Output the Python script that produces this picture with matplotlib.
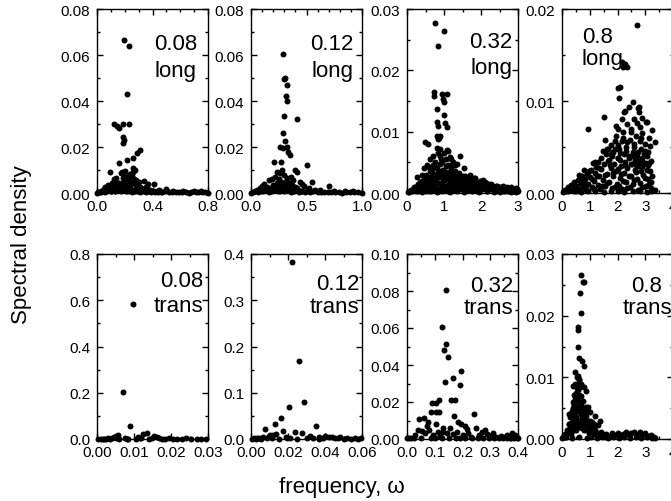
import matplotlib
matplotlib.use('Agg')
import matplotlib.pyplot as plt
from matplotlib.ticker import MultipleLocator, FormatStrFormatter

plt.rcParams['font.family'] = ['Liberation Sans', 'DejaVu Sans']

# ---- data: (frequency, spectral density) pairs ----
long_008 = [
    (0.196, 0.0666), (0.231, 0.0640), (0.216, 0.0432),
    (0.126, 0.0300), (0.145, 0.0290), (0.160, 0.0281), (0.189, 0.0301), (0.233, 0.0301),
    (0.184, 0.0242), (0.194, 0.0231), (0.189, 0.0218),
    (0.313, 0.0188), (0.286, 0.0174), (0.257, 0.0152), (0.213, 0.0145), (0.155, 0.0129),
    (0.097, 0.0090), (0.179, 0.0093), (0.204, 0.0097), (0.257, 0.0107), (0.276, 0.0101),
    (0.238, 0.0083), (0.228, 0.0054), (0.301, 0.0046), (0.339, 0.0054), (0.368, 0.0039),
    (0.410, 0.0039), (0.170, 0.0085), (0.190, 0.0088), (0.260, 0.0090), (0.120, 0.0060),
    (0.130, 0.0050), (0.140, 0.0065), (0.160, 0.0045), (0.270, 0.0062), (0.250, 0.0050),
    (0.290, 0.0035), (0.310, 0.0028), (0.080, 0.0035), (0.060, 0.0025), (0.050, 0.0018),
    (0.100, 0.0030), (0.110, 0.0042), (0.200, 0.0030), (0.220, 0.0025), (0.240, 0.0020),
    (0.350, 0.0025), (0.380, 0.0015), (0.450, 0.0012), (0.500, 0.0018), (0.550, 0.0008),
    (0.620, 0.0008), (0.700, 0.0010), (0.750, 0.0008),
    (0.02, 0.0005), (0.03, 0.0010), (0.04, 0.0008), (0.07, 0.0020), (0.09, 0.0025),
    (0.12, 0.0030), (0.13, 0.0018), (0.14, 0.0035), (0.15, 0.0025), (0.17, 0.0030),
    (0.18, 0.0020), (0.19, 0.0045), (0.20, 0.0060), (0.21, 0.0038), (0.22, 0.0055),
    (0.23, 0.0035), (0.24, 0.0065), (0.26, 0.0045), (0.28, 0.0030), (0.32, 0.0022),
    (0.34, 0.0012), (0.36, 0.0018), (0.40, 0.0010), (0.43, 0.0008), (0.47, 0.0006),
    (0.10, 0.0008), (0.13, 0.0010), (0.16, 0.0028), (0.18, 0.0012), (0.20, 0.0018),
    (0.22, 0.0010), (0.25, 0.0015), (0.27, 0.0008), (0.29, 0.0020), (0.31, 0.0010),
    (0.33, 0.0016), (0.21, 0.0070), (0.23, 0.0078), (0.25, 0.0075), (0.19, 0.0065),
    (0.28, 0.0055),
]
long_008_base_x = [0.00, 0.01, 0.03, 0.05, 0.06, 0.08, 0.10, 0.11, 0.13, 0.15, 0.17, 0.18,
                   0.21, 0.23, 0.25, 0.27, 0.29, 0.31, 0.33, 0.35, 0.37, 0.39, 0.42, 0.44,
                   0.46, 0.49, 0.52, 0.54, 0.57, 0.59, 0.61, 0.64, 0.66, 0.68, 0.71, 0.73,
                   0.76, 0.78, 0.80]
long_008_base_y = [0.0002, 0.0004, 0.0006, 0.0009, 0.0005, 0.0011, 0.0008, 0.0014, 0.0010,
                   0.0012, 0.0007, 0.0013, 0.0009, 0.0011, 0.0006, 0.0010, 0.0008, 0.0006,
                   0.0009, 0.0005, 0.0007, 0.0004, 0.0006, 0.0003, 0.0005, 0.0007, 0.0004,
                   0.0003, 0.0005, 0.0003, 0.0004, 0.0006, 0.0002, 0.0004, 0.0005, 0.0003,
                   0.0004, 0.0003, 0.0002]

long_012 = [
    (0.290, 0.0605), (0.300, 0.0496), (0.310, 0.0500), (0.327, 0.0470), (0.315, 0.0420),
    (0.324, 0.0400), (0.414, 0.0322), (0.294, 0.0334), (0.285, 0.0260), (0.309, 0.0225),
    (0.264, 0.0200), (0.290, 0.0197), (0.327, 0.0200), (0.330, 0.0177), (0.350, 0.0165),
    (0.207, 0.0136), (0.270, 0.0136), (0.500, 0.0122), (0.230, 0.0090), (0.260, 0.0086),
    (0.280, 0.0100), (0.400, 0.0101), (0.410, 0.0090), (0.160, 0.0055), (0.190, 0.0060),
    (0.550, 0.0046), (0.700, 0.0032), (0.220, 0.0070), (0.250, 0.0060), (0.300, 0.0080),
    (0.320, 0.0065), (0.360, 0.0070), (0.380, 0.0055), (0.440, 0.0050), (0.460, 0.0040),
    (0.480, 0.0030), (0.120, 0.0040), (0.100, 0.0030), (0.080, 0.0020), (0.050, 0.0015),
    (0.140, 0.0025), (0.200, 0.0035), (0.240, 0.0030), (0.280, 0.0040), (0.340, 0.0030),
    (0.400, 0.0025), (0.520, 0.0020), (0.580, 0.0015), (0.620, 0.0012), (0.750, 0.0010),
    (0.850, 0.0008), (0.920, 0.0010), (0.180, 0.0020), (0.230, 0.0045), (0.270, 0.0025),
    (0.310, 0.0050), (0.330, 0.0020), (0.370, 0.0035), (0.420, 0.0015), (0.150, 0.0010),
    (0.17, 0.0012), (0.21, 0.0015), (0.23, 0.0022), (0.26, 0.0010), (0.29, 0.0018),
    (0.32, 0.0012), (0.35, 0.0018), (0.38, 0.0010), (0.41, 0.0020), (0.45, 0.0010),
    (0.50, 0.0008), (0.27, 0.0048), (0.30, 0.0030), (0.34, 0.0045),
]
long_012_base_x = [0.00, 0.02, 0.04, 0.06, 0.09, 0.11, 0.13, 0.16, 0.19, 0.21, 0.24, 0.27,
                   0.30, 0.33, 0.36, 0.39, 0.43, 0.46, 0.49, 0.53, 0.56, 0.60, 0.63, 0.66,
                   0.69, 0.72, 0.76, 0.79, 0.82, 0.86, 0.89, 0.93, 0.96, 1.00]
long_012_base_y = [0.0002, 0.0005, 0.0008, 0.0004, 0.0010, 0.0007, 0.0012, 0.0006, 0.0010,
                   0.0013, 0.0008, 0.0011, 0.0009, 0.0012, 0.0006, 0.0010, 0.0005, 0.0008,
                   0.0006, 0.0004, 0.0007, 0.0003, 0.0005, 0.0004, 0.0006, 0.0003, 0.0004,
                   0.0005, 0.0002, 0.0004, 0.0003, 0.0005, 0.0003, 0.0002]

long_032 = [
    (0.765, 0.0277), (1.000, 0.0264), (0.846, 0.0240),
    (0.73, 0.0164), (0.74, 0.0158), (0.95, 0.0162), (1.07, 0.0162), (0.98, 0.0153),
    (0.99, 0.0148), (0.80, 0.0137), (1.00, 0.0127), (1.03, 0.0114), (1.09, 0.0107),
    (0.82, 0.0115), (0.83, 0.0110), (0.80, 0.0093), (0.85, 0.0088), (0.90, 0.0093),
    (0.87, 0.0090), (0.80, 0.0074), (0.90, 0.0072), (1.09, 0.0070), (1.00, 0.0066),
    (0.49, 0.0083), (0.58, 0.0080), (1.18, 0.0055), (1.25, 0.0050), (1.43, 0.0061),
    (0.70, 0.0045), (0.80, 0.0040), (0.65, 0.0038), (0.26, 0.0026), (1.50, 0.0028),
    (1.70, 0.0030), (1.85, 0.0025), (2.05, 0.0022), (2.10, 0.0018), (2.60, 0.0012),
    (2.94, 0.0008), (0.90, 0.0060), (1.05, 0.0055), (1.15, 0.0058), (1.30, 0.0045),
    (1.10, 0.0045), (0.60, 0.0042), (0.95, 0.0050), (1.20, 0.0035), (0.40, 0.0030),
    (1.60, 0.0022), (1.75, 0.0018), (2.20, 0.0015), (2.40, 0.0012), (2.50, 0.0010),
    (2.70, 0.0010), (2.80, 0.0006), (0.30, 0.0015), (0.20, 0.0010), (0.10, 0.0005),
    (0.02, 0.0002), (0.08, 0.0004), (0.14, 0.0003), (0.18, 0.0008), (0.22, 0.0005),
    (0.27, 0.0012), (0.31, 0.0004), (0.34, 0.0018), (0.38, 0.0009), (0.42, 0.0014),
    (0.45, 0.0022), (0.48, 0.0006), (0.52, 0.0030), (0.55, 0.0016), (0.58, 0.0010),
    (0.61, 0.0024), (0.63, 0.0036), (0.66, 0.0004), (0.68, 0.0019), (0.71, 0.0029),
    (0.73, 0.0012), (0.76, 0.0042), (0.78, 0.0023), (0.81, 0.0007), (0.83, 0.0033),
    (0.86, 0.0016), (0.88, 0.0048), (0.91, 0.0026), (0.93, 0.0010), (0.96, 0.0038),
    (0.98, 0.0019), (1.01, 0.0031), (1.03, 0.0005), (1.06, 0.0044), (1.08, 0.0024),
    (1.11, 0.0013), (1.13, 0.0035), (1.16, 0.0020), (1.19, 0.0041), (1.21, 0.0008),
    (1.24, 0.0028), (1.27, 0.0017), (1.30, 0.0036), (1.33, 0.0011), (1.36, 0.0025),
    (1.40, 0.0032), (1.43, 0.0015), (1.46, 0.0006), (1.50, 0.0022), (1.54, 0.0012),
    (1.58, 0.0027), (1.62, 0.0018), (1.66, 0.0008), (1.70, 0.0021), (1.75, 0.0013),
    (1.80, 0.0024), (1.85, 0.0009), (1.90, 0.0017), (1.95, 0.0005), (2.00, 0.0014),
    (2.06, 0.0020), (2.12, 0.0009), (2.18, 0.0015), (2.25, 0.0006), (2.32, 0.0011),
    (2.40, 0.0004), (2.47, 0.0009), (2.55, 0.0006), (2.62, 0.0003), (2.70, 0.0008),
    (2.78, 0.0004), (2.86, 0.0006), (2.93, 0.0003), (2.99, 0.0004),
    (0.35, 0.0008), (0.40, 0.0020), (0.47, 0.0013), (0.50, 0.0004), (0.53, 0.0019),
    (0.57, 0.0026), (0.60, 0.0007), (0.64, 0.0015), (0.67, 0.0028), (0.70, 0.0010),
    (0.74, 0.0021), (0.77, 0.0005), (0.79, 0.0031), (0.82, 0.0017), (0.85, 0.0026),
    (0.87, 0.0003), (0.90, 0.0015), (0.92, 0.0036), (0.95, 0.0008), (0.97, 0.0027),
    (1.00, 0.0011), (1.02, 0.0022), (1.05, 0.0035), (1.07, 0.0008), (1.10, 0.0029),
    (1.12, 0.0004), (1.15, 0.0025), (1.18, 0.0012), (1.20, 0.0030), (1.23, 0.0019),
    (1.26, 0.0005), (1.29, 0.0024), (1.32, 0.0014), (1.35, 0.0030), (1.38, 0.0007),
    (1.41, 0.0020), (1.45, 0.0026), (1.48, 0.0013), (1.52, 0.0017), (1.56, 0.0004),
    (1.60, 0.0013), (1.64, 0.0023), (1.68, 0.0005), (1.72, 0.0016), (1.78, 0.0007),
    (1.83, 0.0015), (1.88, 0.0004), (1.93, 0.0011), (1.98, 0.0019), (2.03, 0.0007),
    (2.09, 0.0013), (2.15, 0.0004), (2.22, 0.0010), (2.28, 0.0014), (2.36, 0.0007),
    (2.44, 0.0012), (2.52, 0.0003), (2.58, 0.0009), (2.66, 0.0005), (2.74, 0.0003),
    (2.82, 0.0009), (2.90, 0.0004), (2.97, 0.0007),
    (0.55, 0.0045), (0.62, 0.0055), (0.70, 0.0060), (0.75, 0.0050), (0.85, 0.0065),
    (0.92, 0.0055), (1.12, 0.0068), (1.20, 0.0045), (0.68, 0.0035), (1.35, 0.0048),
    (1.55, 0.0040), (0.45, 0.0040),
]
long_032_base_x = [0.05, 0.25, 0.40, 0.60, 0.80, 0.95, 1.15, 1.35, 1.55, 1.75, 1.95, 2.15,
                   2.35, 2.50, 2.65, 2.80, 2.95]
long_032_base_y = [0.0002, 0.0003, 0.0002, 0.0003, 0.0002, 0.0003, 0.0002, 0.0003, 0.0002,
                   0.0003, 0.0002, 0.0003, 0.0002, 0.0002, 0.0003, 0.0002, 0.0002]

long_08 = [
    (2.70, 0.0183), (2.15, 0.0142), (2.27, 0.0140), (2.36, 0.0137), (2.19, 0.0137),
    (2.03, 0.0114), (2.09, 0.0115), (2.07, 0.0103), (2.55, 0.0099), (2.43, 0.0093),
    (2.79, 0.0093), (2.75, 0.0092), (2.79, 0.0088), (2.27, 0.0089), (2.24, 0.0088),
    (1.53, 0.0083), (0.93, 0.0070), (1.95, 0.0073), (2.03, 0.0070), (2.70, 0.0076),
    (2.80, 0.0072), (3.06, 0.0077), (3.26, 0.0068), (2.88, 0.0082), (3.03, 0.0077),
    (2.20, 0.0066), (2.50, 0.0066), (1.90, 0.0057), (2.15, 0.0057), (2.35, 0.0055),
    (2.60, 0.0053), (2.80, 0.0057), (3.00, 0.0053), (3.18, 0.0051), (3.36, 0.0055),
    (1.47, 0.0046), (1.61, 0.0048), (1.75, 0.0042), (1.85, 0.0045), (2.05, 0.0048),
    (2.30, 0.0046), (2.55, 0.0045), (2.70, 0.0040), (2.95, 0.0042), (3.10, 0.0045),
    (1.30, 0.0034), (1.20, 0.0034), (1.70, 0.0036), (2.00, 0.0038), (2.40, 0.0038),
    (2.90, 0.0035), (3.20, 0.0035), (1.60, 0.0042), (1.80, 0.0040), (2.10, 0.0044),
    (2.30, 0.0050), (2.60, 0.0050), (2.85, 0.0048), (3.05, 0.0040), (2.45, 0.0058),
    (2.65, 0.0062), (2.00, 0.0052), (1.40, 0.0038), (1.10, 0.0033), (0.80, 0.0025),
    (0.60, 0.0020), (2.20, 0.0060), (2.90, 0.0065), (2.50, 0.0070), (2.35, 0.0075),
    (2.60, 0.0080), (2.15, 0.0080), (2.85, 0.0060), (3.15, 0.0060), (1.95, 0.0062),
    (1.75, 0.0052), (1.55, 0.0058),
    (0.03, 0.0001), (0.10, 0.0003), (0.16, 0.0002), (0.22, 0.0006), (0.28, 0.0003),
    (0.33, 0.0009), (0.38, 0.0005), (0.44, 0.0012), (0.49, 0.0002), (0.53, 0.0008),
    (0.58, 0.0014), (0.62, 0.0004), (0.67, 0.0011), (0.72, 0.0018), (0.77, 0.0007),
    (0.82, 0.0015), (0.86, 0.0003), (0.91, 0.0021), (0.95, 0.0010), (1.00, 0.0017),
    (1.05, 0.0025), (1.09, 0.0006), (1.14, 0.0013), (1.19, 0.0022), (1.23, 0.0028),
    (1.28, 0.0009), (1.33, 0.0019), (1.37, 0.0004), (1.42, 0.0026), (1.47, 0.0014),
    (1.52, 0.0031), (1.56, 0.0008), (1.61, 0.0021), (1.66, 0.0035), (1.70, 0.0012),
    (1.75, 0.0027), (1.80, 0.0005), (1.84, 0.0018), (1.89, 0.0032), (1.94, 0.0024),
    (1.98, 0.0010), (2.03, 0.0038), (2.08, 0.0016), (2.12, 0.0029), (2.17, 0.0004),
    (2.22, 0.0022), (2.26, 0.0034), (2.31, 0.0012), (2.36, 0.0027), (2.40, 0.0040),
    (2.45, 0.0007), (2.50, 0.0019), (2.54, 0.0031), (2.59, 0.0014), (2.64, 0.0036),
    (2.68, 0.0023), (2.73, 0.0003), (2.78, 0.0029), (2.82, 0.0011), (2.87, 0.0038),
    (2.92, 0.0020), (2.96, 0.0032), (3.01, 0.0008), (3.06, 0.0025), (3.10, 0.0015),
    (3.15, 0.0033), (3.20, 0.0005), (3.25, 0.0018), (3.36, 0.0003),
    (0.40, 0.0008), (0.55, 0.0004), (0.65, 0.0016), (0.75, 0.0012), (0.88, 0.0009),
    (0.98, 0.0024), (1.07, 0.0015), (1.16, 0.0004), (1.26, 0.0018), (1.35, 0.0027),
    (1.45, 0.0008), (1.54, 0.0020), (1.63, 0.0011), (1.72, 0.0030), (1.82, 0.0022),
    (1.91, 0.0006), (2.00, 0.0026), (2.05, 0.0008), (2.14, 0.0021), (2.20, 0.0013),
    (2.28, 0.0030), (2.34, 0.0005), (2.42, 0.0018), (2.48, 0.0032), (2.56, 0.0010),
    (2.62, 0.0025), (2.70, 0.0015), (2.75, 0.0035), (2.84, 0.0024), (2.90, 0.0006),
    (2.98, 0.0016), (3.03, 0.0033), (3.12, 0.0010), (3.18, 0.0024), (3.22, 0.0012),
    (1.65, 0.0048), (1.90, 0.0048), (2.25, 0.0042), (2.55, 0.0040), (2.75, 0.0045),
    (3.00, 0.0046), (2.10, 0.0036), (2.65, 0.0030), (2.90, 0.0028), (3.10, 0.0030),
]
long_08_base_x = [0.20, 0.45, 0.70, 0.95, 1.20, 1.50, 1.75, 2.00, 2.25, 2.55, 2.80, 3.05, 3.20]
long_08_base_y = [0.0002, 0.0002, 0.0001, 0.0002, 0.0002, 0.0001, 0.0002, 0.0002, 0.0001,
                  0.0002, 0.0002, 0.0001, 0.0002]

trans_008 = [
    (0.00964, 0.584), (0.0070, 0.202), (0.0090, 0.055), (0.0058, 0.017), (0.0052, 0.012),
    (0.0125, 0.022), (0.0136, 0.025), (0.0154, 0.014), (0.0163, 0.010), (0.0110, 0.008),
    (0.0115, 0.006), (0.0045, 0.008), (0.0080, 0.002),
]
trans_008_base_x = [0.0003, 0.0010, 0.0015, 0.0020, 0.0025, 0.0030, 0.0035, 0.0040, 0.0050,
                    0.0060, 0.0075, 0.0085, 0.0105, 0.0120, 0.0140, 0.0148, 0.0168, 0.0175,
                    0.0185, 0.0195, 0.0205, 0.0215, 0.0230, 0.0240, 0.0255, 0.0270, 0.0280,
                    0.0295]
trans_008_base_y = [0.001, 0.002, 0.001, 0.002, 0.001, 0.003, 0.002, 0.004, 0.003, 0.002,
                    0.003, 0.001, 0.002, 0.003, 0.002, 0.004, 0.003, 0.002, 0.001, 0.003,
                    0.001, 0.002, 0.001, 0.003, 0.002, 0.001, 0.002, 0.001]

trans_012 = [
    (0.0223, 0.383), (0.0259, 0.169), (0.0207, 0.070), (0.0288, 0.079), (0.0162, 0.045),
    (0.0130, 0.032), (0.0171, 0.018), (0.0076, 0.021), (0.0350, 0.028), (0.0238, 0.0145),
    (0.0274, 0.013), (0.0120, 0.009), (0.0137, 0.010), (0.0095, 0.006), (0.0105, 0.008),
    (0.0188, 0.004), (0.0320, 0.006), (0.0370, 0.004), (0.0400, 0.007), (0.0440, 0.005),
    (0.0480, 0.004),
]
trans_012_base_x = [0.0005, 0.0015, 0.0025, 0.0035, 0.0045, 0.0055, 0.0065, 0.0085, 0.0115,
                    0.0150, 0.0195, 0.0210, 0.0250, 0.0305, 0.0335, 0.0365, 0.0390, 0.0420,
                    0.0455, 0.0470, 0.0500, 0.0520, 0.0540, 0.0560, 0.0580, 0.0595]
trans_012_base_y = [0.001, 0.002, 0.001, 0.003, 0.002, 0.001, 0.004, 0.002, 0.003, 0.001,
                    0.002, 0.003, 0.001, 0.002, 0.003, 0.001, 0.002, 0.004, 0.002, 0.003,
                    0.001, 0.002, 0.001, 0.002, 0.001, 0.003]

trans_032 = [
    (0.1405, 0.0805), (0.126, 0.0603), (0.140, 0.0513), (0.134, 0.0482), (0.149, 0.0441),
    (0.137, 0.0310), (0.164, 0.0328), (0.193, 0.0366), (0.191, 0.0293), (0.157, 0.0210),
    (0.173, 0.0210), (0.089, 0.0194), (0.104, 0.0193), (0.116, 0.0210), (0.086, 0.0144),
    (0.104, 0.0144), (0.116, 0.0144), (0.169, 0.0123), (0.182, 0.0093), (0.194, 0.0081),
    (0.209, 0.0072), (0.215, 0.0054), (0.243, 0.0135), (0.044, 0.0108), (0.062, 0.0113),
    (0.075, 0.0090), (0.072, 0.0068), (0.105, 0.0080), (0.130, 0.0060), (0.130, 0.0040),
    (0.040, 0.0046), (0.055, 0.0042), (0.030, 0.0022), (0.250, 0.0059), (0.280, 0.0050),
    (0.290, 0.0027), (0.380, 0.0030), (0.390, 0.0020), (0.340, 0.0015), (0.350, 0.0010),
    (0.065, 0.0030), (0.080, 0.0050), (0.095, 0.0020), (0.110, 0.0040), (0.120, 0.0015),
    (0.145, 0.0030), (0.155, 0.0060), (0.165, 0.0025), (0.180, 0.0040), (0.200, 0.0020),
    (0.220, 0.0030), (0.230, 0.0010), (0.260, 0.0020), (0.270, 0.0040), (0.300, 0.0015),
    (0.310, 0.0030), (0.320, 0.0010), (0.360, 0.0020), (0.375, 0.0008),
]
trans_032_base_x = [0.000, 0.008, 0.016, 0.024, 0.050, 0.085, 0.100, 0.125, 0.150, 0.175,
                    0.190, 0.210, 0.235, 0.255, 0.275, 0.295, 0.315, 0.330, 0.345, 0.360,
                    0.370, 0.385, 0.395, 0.400]
trans_032_base_y = [0.0005, 0.0007, 0.0004, 0.0006, 0.0005, 0.0004, 0.0006, 0.0005, 0.0004,
                    0.0006, 0.0005, 0.0004, 0.0006, 0.0005, 0.0004, 0.0006, 0.0005, 0.0004,
                    0.0006, 0.0005, 0.0004, 0.0006, 0.0005, 0.0004]

trans_08 = [
    (0.686, 0.0266), (0.747, 0.0255), (0.794, 0.0255), (0.640, 0.0236), (0.700, 0.0205),
    (0.578, 0.0182), (0.578, 0.0177), (0.580, 0.0149), (0.625, 0.0132), (0.710, 0.0127),
    (0.790, 0.0119), (0.470, 0.0109), (0.590, 0.0102), (0.625, 0.0097), (0.400, 0.0086),
    (0.550, 0.0082), (0.800, 0.0084), (0.870, 0.0078), (0.420, 0.0057), (0.560, 0.0050),
    (0.940, 0.0052), (1.000, 0.0044), (1.190, 0.0038), (1.370, 0.0030), (1.070, 0.0027),
    (0.240, 0.0025), (0.300, 0.0011),
    (0.05, 0.0003), (0.10, 0.0008), (0.15, 0.0004), (0.18, 0.0015), (0.22, 0.0010),
    (0.25, 0.0025), (0.28, 0.0018), (0.30, 0.0035), (0.33, 0.0008), (0.35, 0.0045),
    (0.37, 0.0028), (0.40, 0.0060), (0.42, 0.0015), (0.44, 0.0072), (0.46, 0.0038),
    (0.48, 0.0090), (0.50, 0.0052), (0.52, 0.0022), (0.54, 0.0068), (0.56, 0.0080),
    (0.58, 0.0045), (0.60, 0.0095), (0.62, 0.0030), (0.64, 0.0058), (0.66, 0.0085),
    (0.68, 0.0040), (0.70, 0.0070), (0.72, 0.0018), (0.74, 0.0050), (0.76, 0.0062),
    (0.78, 0.0032), (0.80, 0.0045), (0.83, 0.0025), (0.86, 0.0038), (0.89, 0.0015),
    (0.92, 0.0030), (0.95, 0.0020), (0.98, 0.0010), (1.02, 0.0024), (1.06, 0.0014),
    (1.10, 0.0020), (1.15, 0.0008), (1.20, 0.0015), (1.25, 0.0010), (1.30, 0.0022),
    (1.35, 0.0006), (1.40, 0.0012), (1.48, 0.0008), (1.55, 0.0004),
    (0.45, 0.0055), (0.55, 0.0100), (0.50, 0.0075), (0.65, 0.0070), (0.58, 0.0062),
    (0.63, 0.0045), (0.52, 0.0035), (0.70, 0.0055), (0.75, 0.0040), (0.85, 0.0052),
    (0.38, 0.0050), (0.32, 0.0020), (0.27, 0.0040),
    (0.35, 0.0020), (0.40, 0.0030), (0.43, 0.0042), (0.47, 0.0025), (0.50, 0.0015),
    (0.53, 0.0048), (0.57, 0.0030), (0.60, 0.0020), (0.62, 0.0072), (0.66, 0.0050),
    (0.68, 0.0025), (0.72, 0.0035), (0.75, 0.0025), (0.78, 0.0015), (0.82, 0.0040),
    (0.88, 0.0028), (0.92, 0.0045), (1.00, 0.0030), (1.05, 0.0006), (1.15, 0.0025),
    (0.48, 0.0065), (0.55, 0.0088), (0.68, 0.0090),
    (1.60, 0.0008), (1.70, 0.0005), (1.80, 0.0009), (1.90, 0.0006), (2.00, 0.0010),
    (2.10, 0.0004), (2.20, 0.0008), (2.30, 0.0011), (2.40, 0.0006), (2.50, 0.0009),
    (2.60, 0.0012), (2.70, 0.0008), (2.80, 0.0011), (2.90, 0.0007), (3.00, 0.0009),
    (3.10, 0.0005), (3.20, 0.0006), (3.30, 0.0003), (3.36, 0.0002),
]
trans_08_base_x = [0.00, 0.12, 0.35, 0.60, 0.90, 1.05, 1.25, 1.45, 1.65, 1.85, 2.05, 2.25,
                   2.45, 2.65, 2.85, 3.05, 3.25]
trans_08_base_y = [0.0002, 0.0003, 0.0002, 0.0003, 0.0002, 0.0003, 0.0002, 0.0003, 0.0002,
                   0.0003, 0.0002, 0.0003, 0.0002, 0.0003, 0.0002, 0.0003, 0.0002]

# label of each panel
labels = [('0.08', 'long'), ('0.12', 'long'), ('0.32', 'long'), ('0.8', 'long'),
          ('0.08', 'trans'), ('0.12', 'trans'), ('0.32', 'trans'), ('0.8', 'trans')]

W, H = 671, 502


def add_panel(fig, left, top, right, bottom):
    return fig.add_axes([left / W, 1 - bottom / H, (right - left) / W, (bottom - top) / H])


def style(ax, xmax, xmaj, xmin, xfmt, ymax, ymaj, ymin, yfmt):
    ax.set_xlim(0, xmax)
    ax.set_ylim(0, ymax)
    ax.xaxis.set_major_locator(MultipleLocator(xmaj))
    ax.xaxis.set_minor_locator(MultipleLocator(xmin))
    ax.yaxis.set_major_locator(MultipleLocator(ymaj))
    ax.yaxis.set_minor_locator(MultipleLocator(ymin))
    ax.xaxis.set_major_formatter(FormatStrFormatter(xfmt))
    ax.yaxis.set_major_formatter(FormatStrFormatter(yfmt))
    ax.tick_params(which='both', direction='in', top=True, right=True, width=1, colors='black')
    ax.tick_params(which='major', length=4, labelsize=11)
    ax.tick_params(axis='x', which='major', pad=4.5)
    ax.tick_params(axis='y', which='major', pad=5)
    ax.tick_params(which='minor', length=2.5)
    for s in ax.spines.values():
        s.set_linewidth(1.0)


def scatter(ax, pairs, bx, by):
    xs = [p[0] for p in pairs] + bx
    ys = [p[1] for p in pairs] + by
    ax.plot(xs, ys, 'o', color='black', ms=4.3, mew=0, clip_on=False, zorder=3)


fig = plt.figure(figsize=(W / 100, H / 100), dpi=100)

cols = [(97, 208), (251, 362), (407, 518), (562, 673)]
top_row = (10, 194)
bot_row = (255, 440)

axes = []
for (t, b) in (top_row, bot_row):
    for (l, r) in cols:
        axes.append(add_panel(fig, l, t, r, b))

style(axes[0], 0.8, 0.4, 0.1, '%.1f', 0.08, 0.02, 0.01, '%.2f')
style(axes[1], 1.0, 0.5, 0.1, '%.1f', 0.08, 0.02, 0.01, '%.2f')
style(axes[2], 3, 1, 0.5, '%.0f', 0.03, 0.01, 0.005, '%.2f')
style(axes[3], 4, 1, 0.5, '%.0f', 0.02, 0.01, 0.005, '%.2f')
style(axes[4], 0.03, 0.01, 0.005, '%.2f', 0.8, 0.2, 0.1, '%.1f')
style(axes[5], 0.06, 0.02, 0.01, '%.2f', 0.4, 0.1, 0.05, '%.1f')
style(axes[6], 0.4, 0.1, 0.05, '%.1f', 0.10, 0.02, 0.01, '%.2f')
style(axes[7], 4, 1, 0.5, '%.0f', 0.03, 0.01, 0.005, '%.2f')

scatter(axes[0], long_008, long_008_base_x, long_008_base_y)
scatter(axes[1], long_012, long_012_base_x, long_012_base_y)
scatter(axes[2], long_032, long_032_base_x, long_032_base_y)
scatter(axes[3], long_08, long_08_base_x, long_08_base_y)
scatter(axes[4], trans_008, trans_008_base_x, trans_008_base_y)
scatter(axes[5], trans_012, trans_012_base_x, trans_012_base_y)
scatter(axes[6], trans_032, trans_032_base_x, trans_032_base_y)
scatter(axes[7], trans_08, trans_08_base_x, trans_08_base_y)

# panel annotations: (x, first baseline, second baseline, alignment) in axes units
text_pos = [(0.90, 0.783, 0.636, 'right'), (0.92, 0.783, 0.636, 'right'),
            (0.946, 0.793, 0.652, 'right'), (0.18, 0.82, 0.70, 'left'),
            (0.955, 0.827, 0.692, 'right'), (0.973, 0.811, 0.686, 'right'),
            (0.955, 0.80, 0.681, 'right'), (0.766, 0.80, 0.681, 'center')]
for ax, (num, kind), (tx, y1, y2, ha) in zip(axes, labels, text_pos):
    ax.text(tx, y1, num, transform=ax.transAxes, ha=ha, va='baseline', fontsize=16, zorder=1)
    ax.text(tx, y2, kind, transform=ax.transAxes, ha=ha, va='baseline', fontsize=16, zorder=1)

fig.text(22 / W, 1 - 245 / H, 'Spectral density', rotation=90, ha='center', va='center',
         fontsize=16)
fig.text(342 / W, 1 - 488 / H, 'frequency, ω', ha='center', va='center', fontsize=16)

fig.savefig('out.png', dpi=100)
plt.close(fig)
